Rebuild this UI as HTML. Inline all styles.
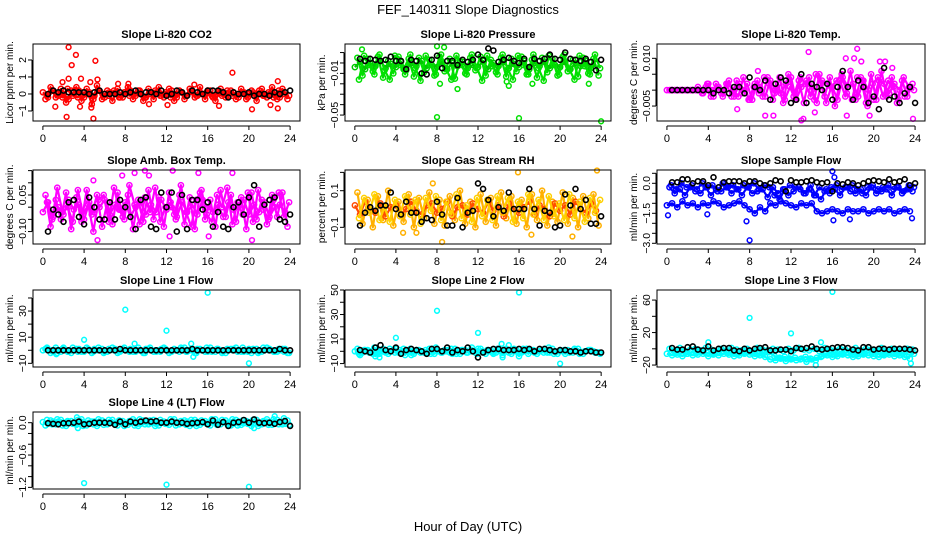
<!DOCTYPE html>
<html><head><meta charset="utf-8"><style>
body{margin:0;background:#fff;}
svg{display:block;font-family:"Liberation Sans",sans-serif;}
</style></head><body>
<svg id="c" width="936" height="540" viewBox="0 0 936 540">
<text x="468" y="14" text-anchor="middle" font-size="13">FEF_140311  Slope Diagnostics</text>
<text x="468" y="531" text-anchor="middle" font-size="13">Hour of Day (UTC)</text>
</svg>
<script>
const xTicks=[0,4,8,12,16,20,24];
const xTickLabels=["0","4","8","12","16","20","24"];
// CO2
const co2A=[-0.3,0.4,-0.2,0.3,-0.5,0.2,0.4,-0.4,0.3,-0.6,0.5,-0.3,0.2,-0.4,0.3,-0.2,0.4,-0.3,0.2,-0.4,0.3,-0.3,0.4,-0.2,0.3,-0.4,0.2,-0.3,0.3,-0.2,0.4,-0.3,0.2,-0.4,0.3,-0.2,0.2,-0.3,0.3,-0.3,0.2,-0.4,0.3,-0.2,0.4,-0.3,0.3,-0.3];
const co2B=[0.1,-0.2,0.2,-0.1,0.0,-0.3,0.1,0.2,-0.2,0.1,-0.1,0.2,-0.2,0.1,0.0,-0.2,0.1,0.2,-0.1,0.0,-0.2,0.1,0.1,-0.1,0.0,0.2,-0.2,0.1,-0.1,0.1,-0.1,0.0,0.2,-0.2,0.1,0.0,-0.1,0.1,-0.2,0.1,0.0,-0.1,0.2,-0.1,0.0,0.1,-0.2,0.1];
const co2C=[-0.1,0.2,0.0,-0.2,0.3,-0.1,-0.2,0.1,0.0,-0.3,0.2,0.0,-0.1,0.2,-0.2,0.1,-0.1,0.0,0.2,-0.2,0.0,0.2,-0.1,0.1,-0.2,0.0,0.1,-0.1,0.2,-0.1,0.0,0.1,-0.1,0.0,-0.1,0.2,-0.1,0.0,0.1,-0.2,0.1,0.0,-0.1,0.1,-0.2,0.2,0.0,-0.1];
const co2K=[0,0.2,0.1,0.2,0.1,0.1,0.1,0.1,0.0,0.1,0.2,0.0,0.0,0.0,0.1,0.0,0.1,0.2,0.0,0.1,0.1,0.0,0.2,-0.1,0.0,0.2,0.1,-0.1,0.2,0.1,0.0,0.2,0.2,0.2,0.1,-0.2,0.1,0.0,0.0,0.1,-0.1,0.0,0.0,-0.1,0.1,0.0,0.1,0.2];
const co2O=[[2.5,2.75],[3.2,2.3],[2.8,1.7],[5.1,1.95],[2.5,0.9],[4.6,0.7],[5.3,0.85],[3.7,0.9],[1.9,0.7],[7.3,0.6],[8.3,0.6],[18.4,1.25],[22.8,0.75],[14.7,0.55],[2.3,-1.35],[4.9,-1.45],[4.7,-0.8],[3.6,-0.75],[1.2,-0.75],[20.3,-0.9],[22.8,-0.85],[17.1,-0.7],[22.1,-0.65],[12.1,-0.65],[10.3,-0.6]];
// Pressure
const presA=[0.005,-0.012,0.004,-0.008,0.006,-0.014,0.002,-0.010,0.006,-0.006,0.004,-0.013,0.005,-0.009,0.003,-0.012,0.006,-0.008,0.004,-0.015,0.002,-0.010,0.005,-0.007,0.006,-0.012,0.003,-0.009,0.005,-0.013,0.004,-0.008,0.006,-0.011,0.003,-0.014,0.005,-0.009,0.004,-0.012,0.006,-0.008,0.003,-0.013,0.005,-0.010,0.004,-0.012];
const presB=[-0.004,0.001,-0.006,0.000,-0.003,0.002,-0.005,-0.001,-0.004,0.001,-0.007,0.000,-0.003,0.002,-0.005,-0.002,-0.004,0.001,-0.006,0.000,-0.003,0.001,-0.005,-0.002,-0.004,0.002,-0.006,0.000,-0.003,0.001,-0.005,-0.001,-0.004,0.002,-0.006,0.000,-0.003,0.001,-0.005,-0.002,-0.004,0.001,-0.006,0.000,-0.003,0.002,-0.005,-0.001];
const presC=[-0.016,0.007,-0.002,-0.011,0.008,-0.007,-0.016,0.007,-0.002,-0.011,0.008,-0.005,-0.017,0.007,-0.002,-0.011,0.008,-0.006,-0.016,0.007,-0.002,-0.011,0.008,-0.005,-0.017,0.007,-0.003,-0.011,0.008,-0.006,-0.016,0.007,-0.002,-0.011,0.008,-0.005,-0.017,0.007,-0.002,-0.011,0.008,-0.006,-0.016,0.007,-0.003,-0.011,0.008,-0.005];
const presK=[0.004,0.002,0.004,0.003,0.002,0.003,0.006,0.002,0.002,-0.006,0.003,0.002,-0.010,-0.011,0.003,0.007,-0.005,0.002,0.002,-0.002,0.003,0.001,0.003,0.008,0.003,0.014,0.012,0.001,0.003,0.005,0.002,0.000,0.004,-0.004,0.004,0.002,0.004,0.008,0.004,0.003,0.010,0.004,0.003,0.002,0.004,0.001,-0.007,0.003];
const presO=[[0.7,0.013],[8,0.016],[8.7,0.015],[8,-0.052],[16,-0.053],[24,-0.056],[10,-0.025],[15,-0.022],[14.8,-0.018],[8.3,-0.02],[17.3,-0.02],[22.8,-0.02]];
// Li-820 temp
const temA=[0,0,0,0,0,0,0,0.001,-0.002,0.002,-0.001,0.002,-0.002,0.003,-0.001,0.002,-0.003,0.003,-0.002,0.004,-0.003,0.002,-0.004,0.005,-0.002,0.003,-0.004,0.004,-0.003,0.005,-0.002,0.004,-0.005,0.003,-0.002,0.006,-0.003,0.004,-0.004,0.005,-0.003,0.006,-0.002,0.004,-0.004,0.003,-0.002,0.002];
const temB=[0,0,0,0,0,0,0.001,-0.001,0.002,-0.002,0.001,-0.001,0.003,-0.002,0.002,0.000,-0.003,0.002,0.001,-0.002,0.003,0.000,-0.001,0.002,0.004,-0.003,0.001,0.003,0.000,-0.004,0.003,0.002,0.001,-0.003,0.004,0.001,0.002,-0.002,0.003,0.000,-0.003,0.003,0.002,-0.001,0.002,0.000,-0.002,0.001];
const temC=[0,0,0,0,0,0,-0.001,0.002,0.000,0.001,-0.002,0.002,0.000,-0.002,0.004,-0.003,0.001,-0.001,0.004,0.002,-0.001,0.004,-0.003,0.001,-0.003,0.004,0.002,-0.002,0.005,0.002,-0.004,0.001,0.003,0.005,-0.001,-0.003,0.004,0.003,-0.005,0.002,0.004,-0.002,0.003,0.001,-0.003,0.004,0.001,0.000];
const temK=[0,0,0,0,0,0,0.000,0.000,-0.001,0.000,0.000,-0.001,0.001,0.001,-0.001,0.004,0.001,0.000,0.003,-0.003,0.002,0.004,0.003,-0.004,-0.003,0.005,-0.004,0.002,0.001,0.000,0.002,-0.003,0.001,0.006,0.001,-0.003,0.003,0.001,-0.004,-0.002,-0.006,0.007,-0.003,-0.002,-0.004,-0.001,0.001,-0.004];
const temO=[[13.7,0.012],[17.3,0.010],[18.1,0.010],[18.4,0.013],[18.8,0.009],[21.1,0.009],[20.6,0.009],[13.2,-0.009],[13.0,-0.0095],[23.8,-0.009],[17.4,-0.008],[19.6,-0.008],[9.5,-0.008],[10.3,-0.008],[8.8,0.006],[14.3,-0.007],[6.8,-0.006],[21.8,0.007]];
// Amb box temp
const ambA=[0.05,-0.08,0.03,-0.05,0.06,-0.09,0.04,-0.06,0.07,-0.03,0.05,-0.08,0.02,-0.07,0.06,-0.04,0.05,-0.09,0.03,-0.06,0.07,-0.05,0.04,-0.08,0.06,-0.03,0.05,-0.07,0.04,-0.09,0.06,-0.05,0.03,-0.08,0.07,-0.04,0.05,-0.06,0.04,-0.09,0.06,-0.05,0.03,-0.07,0.05,-0.04,0.06,-0.08];
const ambB=[-0.02,0.02,-0.04,0.00,-0.03,0.03,-0.01,0.01,-0.05,0.02,-0.02,0.00,0.03,-0.03,0.01,-0.01,0.02,-0.04,0.00,0.02,-0.03,0.01,-0.02,0.03,-0.01,0.00,-0.04,0.02,-0.02,0.01,-0.03,0.03,0.00,-0.02,0.01,-0.04,0.02,-0.01,0.00,0.03,-0.03,0.01,-0.02,0.02,-0.04,0.00,0.01,-0.02];
const ambC=[0.02,-0.05,0.08,-0.02,0.00,-0.06,0.07,-0.03,0.01,-0.10,0.03,0.05,-0.06,0.08,-0.01,-0.05,0.09,0.01,-0.07,0.04,-0.02,0.08,-0.06,0.00,0.02,-0.05,0.09,-0.02,-0.08,0.03,0.07,-0.03,-0.06,0.05,0.00,0.08,-0.07,0.02,-0.03,0.06,-0.06,0.07,-0.01,-0.05,0.03,0.06,-0.04,0.02];
const ambK=[-0.10,-0.01,-0.03,-0.06,0.02,0.03,-0.04,-0.07,0.04,0.00,-0.05,-0.05,0.02,-0.05,0.03,0.00,-0.04,-0.09,0.03,0.04,-0.08,-0.09,0.06,0.00,0.06,-0.10,0.05,-0.09,0.03,0.03,-0.01,0.02,-0.08,-0.02,-0.08,-0.09,0.00,0.02,-0.03,0.04,0.09,-0.08,0.01,0.03,0.04,-0.05,-0.06,-0.03];
const ambO=[[9.9,0.15],[12.6,0.15],[18.4,0.14],[10.3,0.13],[15.1,0.14],[7.7,0.13],[5.3,-0.135],[20.3,-0.135],[12.3,-0.12],[16.1,-0.12],[4.9,0.11],[8.9,0.14]];
// Gas stream RH
const rhA=[0.09,-0.08,0.05,-0.10,0.07,-0.06,0.10,-0.09,0.04,-0.07,0.08,-0.10,0.06,-0.05,0.09,-0.08,0.05,-0.09,0.07,-0.06,0.10,-0.08,0.04,-0.10,0.08,-0.07,0.06,-0.09,0.09,-0.05,0.07,-0.08,0.05,-0.10,0.08,-0.06,0.10,-0.09,0.04,-0.07,0.09,-0.08,0.06,-0.10,0.07,-0.05,0.08,-0.09];
const rhB=[0.02,-0.03,0.04,0.00,-0.02,0.03,-0.04,0.01,0.02,-0.03,0.00,0.04,-0.01,-0.03,0.02,0.03,-0.02,0.00,0.04,-0.04,0.01,0.02,-0.03,0.03,0.00,-0.02,0.04,-0.01,0.02,-0.04,0.03,0.00,-0.02,0.01,0.04,-0.03,0.02,0.00,-0.04,0.03,-0.01,0.02,-0.03,0.04,0.00,-0.02,0.03,-0.01];
const rhC=[-0.05,0.06,-0.02,0.08,-0.06,0.01,-0.07,0.05,-0.04,0.07,-0.03,0.05,-0.08,0.06,-0.01,0.07,-0.06,0.04,-0.03,0.08,-0.05,0.02,-0.07,0.06,-0.04,0.05,-0.06,0.07,-0.02,0.06,-0.07,0.04,-0.05,0.08,-0.03,0.05,-0.06,0.07,-0.04,0.03,-0.06,0.08,-0.05,0.04,-0.07,0.06,-0.02,0.05];
const rhK=[-0.09,-0.02,0.01,-0.01,0.02,0.02,0.09,0.00,-0.03,0.04,-0.02,-0.02,-0.07,-0.05,-0.06,0.04,-0.03,-0.09,-0.09,0.06,-0.10,-0.02,-0.01,0.14,0.11,0.05,-0.04,0.01,-0.01,0.09,0.00,0.00,0.00,0.11,0.00,-0.09,-0.01,-0.02,-0.10,-0.09,0.08,0.02,0.11,0.00,0.05,-0.08,-0.08,-0.04];
const rhO=[[15.9,0.20],[23.6,0.21],[8.5,-0.18],[4.7,-0.13],[7.6,0.14],[21.2,-0.15],[17.2,-0.14],[6.0,-0.13]];
// Sample flow
const sfA=[-0.2,-0.5,-0.3,-0.6,-0.2,-0.4,-0.5,-0.2,-0.6,-0.3,-0.4,-0.2,-0.5,-0.3,-0.6,-0.2,-0.5,-0.4,-0.3,-0.7,-0.2,-0.5,-0.3,-0.6,-0.4,-0.2,-0.5,-0.3,-0.6,-0.2,-0.4,-0.5,-0.3,-0.6,-0.2,-0.4,-0.5,-0.3,-0.6,-0.2,-0.5,-0.4,-0.3,-0.6,-0.2,-0.5,-0.3,-0.4];
const sfB=[-1.1,-1.0,-1.2,-0.9,-1.1,-1.0,-1.2,-1.0,-1.1,-0.9,-1.0,-1.2,-1.1,-1.0,-0.9,-1.1,-1.3,-1.5,-1.2,-1.4,-1.0,-1.1,-0.9,-1.0,-1.1,-1.2,-1.0,-1.1,-1.0,-1.4,-1.5,-1.4,-1.3,-1.4,-1.5,-1.3,-1.4,-1.4,-1.3,-1.5,-1.4,-1.3,-1.4,-1.3,-1.5,-1.4,-1.3,-1.4];
const sfC=[-0.1,-0.3,0.0,-0.2,-0.1,-0.3,0.0,-0.2,-0.1,-0.4,0.0,-0.2,-0.1,-0.3,-0.1,-0.2,0.0,-0.3,-0.1,-0.2,-0.6,-0.8,-0.3,-0.1,-0.2,-0.3,-0.5,-0.1,-0.6,-0.8,-0.3,-0.2,-0.1,-0.3,-0.2,-0.1,-0.3,-0.5,-0.2,-0.1,-0.3,-0.2,-0.1,-0.3,-0.2,-0.4,-0.1,-0.2];
const sfK=[0.05,0.05,0.2,0.2,0.0,0.1,0.1,-0.1,0.3,-0.2,0.05,0.1,0.1,0.1,0.0,0.1,0.1,0.0,-0.1,0.0,0.15,0.1,-0.4,0.15,0.05,0.05,0.1,0.15,0.05,0.0,0.05,-0.4,0.0,-0.05,0.05,0.0,-0.1,0.0,0.1,0.15,0.1,0.05,0.2,0.05,0.1,0.2,-0.1,0.0];
const sfO=[[0.1,-1.6],[8,-2.85],[16,0.6],[16.1,-1.85],[17.7,-1.8],[23.7,-1.75],[3.9,-1.55],[16.2,0.3],[7.7,-1.9]];
// Line 1
const l1A=[1,-2,2,-1,0,-2,1,-1,2,-2,0,1,-1,2,-2,1,0,-1,2,-2,1,-1,0,2,-2,1,-1,2,0,-2,1,-1,2,-1,0,-2,1,2,-1,0,-2,1,-1,2,0,-1,1,-2];
const l1B=[0,1,-1,0,2,-1,0,1,-1,0,1,0,-1,0,1,-1,0,1,-1,0,1,0,-1,1,0,-1,0,1,-1,0,1,0,-1,0,1,-1,0,1,0,-1,1,0,-1,0,1,-1,0,1];
const l1C=[2,0,-2,1,-1,2,-1,0,1,-1,2,-2,1,0,-1,2,-1,1,0,-2,2,0,-1,1,-1,0,2,-1,1,-2,0,2,-1,1,-2,1,0,-1,2,-1,1,-2,2,0,-1,1,-1,-2];
const l1K=[0,0,0,0,0,0,0,0,0,0,0,0,0,0,1,0,0,0,0,0,0,0,0,0,0,0,0,0,1,0,0,0,0,0,0,0,0,0,0,0,0,0,0,0,0,1,0,0];
const l1O=[[4,8],[8,31],[12,15],[16,44],[20,-10],[14.6,-5],[8.9,5],[14.4,5],[1.3,-3]];
// Line 2
const l2A=[2,-1,1,-2,0,2,-2,1,-1,2,0,-2,1,-1,2,-2,0,1,-1,2,-2,1,0,-1,2,-2,1,-1,0,2,-2,1,-1,2,0,-2,1,-1,2,-2,0,1,-1,2,-2,1,0,-1];
const l2B=[0,-3,1,0,-4,1,-1,0,2,-1,0,-3,1,0,-1,2,0,-1,1,-2,0,1,-1,0,2,-1,0,-2,1,0,-1,2,-4,0,1,-1,0,2,-1,0,1,-2,0,1,-1,0,1,-1];
const l2C=[-2,1,-1,3,-2,0,2,-1,1,-3,2,0,-1,1,-2,3,-1,0,2,-2,1,-1,3,-2,0,1,-1,2,-3,1,0,-1,2,-2,1,0,-1,3,-2,0,1,-1,2,-2,0,1,-1,-2];
const l2K=[1,0,-1,3,5,1,0,3,-2,1,2,1,0,-2,2,2,0,3,-1,1,0,3,0,-5,-1,1,2,2,1,1,1,2,1,2,0,2,2,1,0,1,1,0,0,-1,0,0,-1,-1];
const l2O=[[4,11],[8,33],[12,15],[16,48],[20,-10],[14.4,-5],[2.4,-5],[14.3,6],[15.0,5]];
// Line 3
const l3A=[0,-2,1,-3,-1,0,-2,1,-1,-3,0,-2,1,-1,-2,0,-3,1,-1,-2,0,-1,-3,0,-2,1,-1,-2,0,-3,1,-1,-2,0,-1,-3,1,-2,0,-1,-2,1,-3,0,-1,-2,0,-1];
const l3B=[-6,-8,-7,-9,-6,-8,-7,-6,-9,-7,-8,-6,-7,-9,-8,-6,-7,-9,-8,-10,-13,-14,-12,-15,-13,-14,-12,-16,-13,-11,-9,-8,-10,-9,-7,-8,-10,-9,-7,-8,-9,-10,-8,-7,-9,-8,-10,-12];
const l3C=[-4,-5,-3,-6,-4,-5,-3,-5,-6,-4,-3,-5,-4,-6,-5,-3,-4,-6,-5,-4,-9,-11,-10,-12,-11,-13,-10,-12,-14,-10,-6,-5,-7,-6,-4,-5,-7,-6,-5,-4,-6,-7,-5,-4,-6,-5,-7,-6];
const l3K=[1,-1,-1,2,3,-1,-2,3,-2,0,1,1,-2,-3,0,-2,0,1,2,-2,-2,-1,-1,-3,1,0,1,3,0,-1,0,1,2,2,1,-1,-2,2,2,-1,0,0,-1,0,0,0,-1,-2];
const l3O=[[8,38],[12,19],[16,70],[4,8],[14.9,8],[23.6,-18],[14.4,-20],[12,-7]];
// Line 4
const l4A=[-0.05,0.04,-0.03,0.05,-0.06,0.03,-0.04,0.06,-0.05,0.02,-0.06,0.04,-0.03,0.05,-0.05,0.03,-0.04,0.06,-0.06,0.04,-0.03,0.05,-0.05,0.02,-0.04,0.06,-0.03,0.04,-0.06,0.05,-0.04,0.03,-0.05,0.06,-0.03,0.04,-0.05,0.05,-0.04,0.03,-0.06,0.05,-0.03,0.06,-0.04,0.05,-0.03,0.04];
const l4B=[0.01,-0.02,0.02,-0.01,0.00,0.02,-0.02,0.01,0.00,-0.02,0.02,-0.01,0.01,0.00,-0.02,0.02,-0.01,0.00,0.02,-0.02,0.01,-0.01,0.02,0.00,-0.02,0.01,0.00,-0.01,0.02,-0.02,0.01,0.00,-0.01,0.02,-0.02,0.01,0.00,-0.02,0.02,-0.01,0.01,0.00,-0.02,0.02,-0.01,0.00,0.01,-0.02];
const l4C=[0.05,-0.03,0.06,-0.05,0.03,-0.02,0.05,-0.06,0.04,-0.03,0.06,-0.04,0.05,-0.02,0.04,-0.06,0.03,-0.05,0.06,-0.03,0.04,-0.06,0.05,-0.02,0.06,-0.05,0.03,-0.04,0.05,-0.06,0.04,-0.02,0.06,-0.04,0.05,-0.03,0.06,-0.05,0.04,-0.02,0.05,-0.06,0.03,-0.04,0.06,-0.03,0.08,-0.04];
const l4K=[-0.01,-0.02,-0.03,-0.01,-0.01,0.00,0.02,-0.03,-0.02,0.00,0.00,0.00,-0.01,-0.04,0.02,-0.03,0.02,0.00,0.02,0.04,0.02,0.03,0.00,0.00,0.02,0.00,0.00,-0.02,-0.01,0.00,0.01,-0.03,0.04,-0.04,0.01,-0.06,0.00,0.01,0.05,0.00,0.06,0.00,-0.01,0.00,-0.02,0.01,0.03,-0.06];
const l4O=[[4,-1.12],[12,-1.15],[20,-1.19],[3.3,0.1],[3.4,-0.1],[20.5,-0.1],[22.5,0.12]];

const cols=[[33,300],[345,611],[657,925]];
const rows=[[44,121],[170,244],[290,367],[412,489]];
const ylabX=[13,325,637];
const panels=[
 {name:"co2",title:"Slope Li-820 CO2",ylab:"Licor ppm per min.",c:0,r:0,ymin:-1.59,ymax:2.94,ticks:[-1,0,1,2],labels:{"-1":"\u22121","0":"0","1":"1","2":"2"},col:["#ff0000","#ff0000","#ff0000"],s:[co2A,co2B,co2C],k:co2K,o:co2O},
 {name:"pressure",title:"Slope Li-820 Pressure",ylab:"kPa per min.",c:1,r:0,ymin:-0.0557,ymax:0.0182,ticks:[-0.05,-0.04,-0.03,-0.02,-0.01,0,0.01],labels:{"-0.05":"\u22120.05","-0.01":"\u22120.01"},col:["#00e000","#00c800","#00e000"],s:[presA,presB,presC],k:presK,o:presO},
 {name:"li820-temp",title:"Slope Li-820 Temp.",ylab:"degrees C per min.",c:2,r:0,ymin:-0.0097,ymax:0.0145,ticks:[-0.005,0,0.005,0.01],labels:{"-0.005":"\u22120.005","0.01":"0.010"},col:["#ff00ff","#ff00ff","#ff00ff"],s:[temA,temB,temC],k:temK,o:temO},
 {name:"amb-box-temp",title:"Slope Amb. Box Temp.",ylab:"degrees C per min.",c:0,r:1,ymin:-0.151,ymax:0.1525,ticks:[-0.1,-0.05,0,0.05,0.1,0.15],labels:{"-0.1":"\u22120.10","0.05":"0.05"},col:["#ff00ff","#ff00ff","#ff00ff"],s:[ambA,ambB,ambC],k:ambK,o:ambO},
 {name:"gas-stream-rh",title:"Slope Gas Stream RH",ylab:"percent per min.",c:1,r:1,ymin:-0.191,ymax:0.213,ticks:[-0.1,0,0.1,0.2],labels:{"-0.1":"\u22120.1","0.1":"0.1"},col:["#ffb000","#ff4a00","#ffd000"],s:[rhA,rhB,rhC],k:rhK,o:rhO},
 {name:"sample-flow",title:"Slope Sample Flow",ylab:"ml/min per min.",c:2,r:1,ymin:-3.035,ymax:0.665,ticks:[0.5,0,-0.5,-1,-1.5,-2,-2.5,-3],labels:{"0":"0.0","-1.5":"\u22121.5","-3":"\u22123.0"},col:["#0000ff","#0000ff","#0000ff"],s:[sfA,sfB,sfC],k:sfK,o:sfO},
 {name:"line1-flow",title:"Slope Line 1 Flow",ylab:"ml/min per min.",c:0,r:2,ymin:-12.8,ymax:46.1,ticks:[-10,0,10,20,30,40],labels:{"-10":"\u221210","10":"10","30":"30"},col:["#00ffff","#00ffff","#00ffff"],s:[l1A,l1B,l1C],k:l1K,o:l1O},
 {name:"line2-flow",title:"Slope Line 2 Flow",ylab:"ml/min per min.",c:1,r:2,ymin:-12.8,ymax:50,ticks:[-10,0,10,20,30,40,50],labels:{"-10":"\u221210","10":"10","30":"30","50":"50"},col:["#00ffff","#00ffff","#00ffff"],s:[l2A,l2B,l2C],k:l2K,o:l2O},
 {name:"line3-flow",title:"Slope Line 3 Flow",ylab:"ml/min per min.",c:2,r:2,ymin:-22.4,ymax:72.4,ticks:[-20,0,20,40,60],labels:{"-20":"\u221220","20":"20","60":"60"},col:["#00ffff","#00ffff","#00ffff"],s:[l3A,l3B,l3C],k:l3K,o:l3O},
 {name:"line4-flow",title:"Slope Line 4 (LT) Flow",ylab:"ml/min per min.",c:0,r:3,ymin:-1.23,ymax:0.198,ticks:[0,-0.2,-0.4,-0.6,-0.8,-1,-1.2],labels:{"0":"0.0","-0.6":"\u22120.6","-1.2":"\u22121.2"},col:["#00ffff","#00ffff","#00ffff"],s:[l4A,l4B,l4C],k:l4K,o:l4O}
];
const NS="http://www.w3.org/2000/svg";
const svg=document.getElementById('c');
function mk(tag,attrs,parent){const e=document.createElementNS(NS,tag);for(const a in attrs)e.setAttribute(a,attrs[a]);parent.appendChild(e);return e;}
const offs=[0.25,0.0,0.4];
panels.forEach(p=>{
  const [x0,x1]=cols[p.c],[y0,y1]=rows[p.r];
  const xs=h=>x0+(h+0.96)/25.92*(x1-x0);
  const ys=v=>y1-(v-p.ymin)/(p.ymax-p.ymin)*(y1-y0);
  const g=mk('g',{},svg);
  
  
  const t=mk('text',{x:(x0+x1)/2,y:y0-6,'text-anchor':'middle','font-size':11,'font-weight':'bold'},g);
  t.textContent=p.title;
  
  
  const lxp=ylabX[p.c], lyp=(y0+y1)/2;
  const yl=mk('text',{x:lxp,y:lyp,'text-anchor':'middle','font-size':10,transform:`rotate(-90 ${lxp} ${lyp})`},g);
  yl.textContent=p.ylab;
  
  
  const pts=mk('g',{fill:'none','stroke-width':1.5},g);
  
  
  p.s.forEach((arr,si)=>{
    let d='';
    arr.forEach((v,i)=>{const h=offs[si]+i*0.5;if(h>24.1)return;
      d+=(d?'L':'M')+xs(h).toFixed(1)+' '+ys(v).toFixed(1);});
    const pl=mk('path',{d:d,stroke:p.col[si],'stroke-width':2.2,'stroke-linejoin':'round'},pts);
    
    
    arr.forEach((v,i)=>{const h=offs[si]+i*0.5;if(h>24.1)return;
      const c=mk('circle',{cx:xs(h).toFixed(1),cy:ys(v).toFixed(1),r:2.6,stroke:p.col[si]},pts);
      
      });
  });
  p.o.forEach(([h,v])=>{const c=mk('circle',{cx:xs(h).toFixed(1),cy:ys(v).toFixed(1),r:2.4,stroke:p.col[0]},pts);
    
    });
  p.k.forEach((v,i)=>{const h=0.5+i*0.5;if(h>24.1)return;
    const c=mk('circle',{cx:xs(h).toFixed(1),cy:ys(v).toFixed(1),r:2.5,stroke:'#000','stroke-width':1.6},pts);
    
    });
  const box=mk('rect',{x:x0,y:y0,width:x1-x0,height:y1-y0,fill:'none',stroke:'#000','stroke-width':1},g);
  
  
  const xa=mk('g',{stroke:'#000','stroke-width':1},g);
  
  
  const ay=y1+5;
  mk('line',{x1:xs(0),x2:xs(24),y1:ay,y2:ay},xa);
  xTicks.forEach((h,i)=>{mk('line',{x1:xs(h),x2:xs(h),y1:ay,y2:ay+4},xa);
    const tl=mk('text',{x:xs(h),y:ay+16,'text-anchor':'middle','font-size':11,stroke:'none',fill:'#000'},xa);
    tl.textContent=xTickLabels[i];
    
    });
  const ya=mk('g',{stroke:'#000','stroke-width':1},g);
  
  
  const ax=x0-1;
  const tv=p.ticks.map(ys);
  mk('line',{x1:ax,x2:ax,y1:Math.min(...tv),y2:Math.max(...tv)},ya);
  p.ticks.forEach(v=>{const y=ys(v);mk('line',{x1:ax-4,x2:ax,y1:y,y2:y},ya);
    const key=String(v);
    if(p.labels[key]!==undefined){
      const lx=ax-6;
      const tl=mk('text',{x:lx,y:y,'text-anchor':'middle','font-size':10.5,stroke:'none',fill:'#000',transform:`rotate(-90 ${lx} ${y})`},ya);
      tl.textContent=p.labels[key];
      
      }
  });
});
</script>
</body></html>
